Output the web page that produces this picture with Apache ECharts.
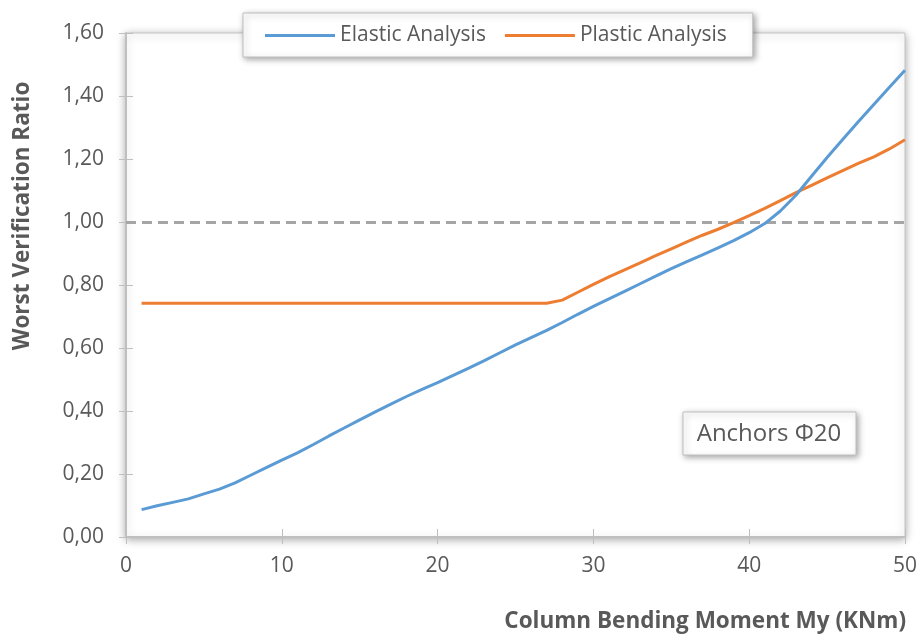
<!DOCTYPE html>
<html>
<head>
<meta charset="utf-8">
<script src="https://cdn.jsdelivr.net/npm/echarts@6/dist/echarts.min.js"></script>
<style>
html,body{margin:0;padding:0;background:#fff;}
#chart{width:920px;height:635px;}
</style>
</head>
<body>
<div id="chart"></div>
<script>
const moments = [1,2,3,4,5,6,7,8,9,10,11,12,13,14,15,16,17,18,19,20,21,22,23,24,25,26,27,28,29,30,31,32,33,34,35,36,37,38,39,40,41,42,43,44,45,46,47,48,49,50];
const elastic = [0.087,0.099,0.110,0.121,0.137,0.152,0.172,0.196,0.220,0.244,0.267,0.293,0.320,0.346,0.372,0.397,0.422,0.446,0.469,0.490,0.513,0.536,0.560,0.585,0.610,0.633,0.656,0.681,0.707,0.732,0.756,0.780,0.804,0.828,0.852,0.874,0.896,0.918,0.941,0.966,0.995,1.035,1.085,1.145,1.205,1.262,1.318,1.373,1.428,1.482];
const plastic = [0.742,0.742,0.742,0.742,0.742,0.742,0.742,0.742,0.742,0.742,0.742,0.742,0.742,0.742,0.742,0.742,0.742,0.742,0.742,0.742,0.742,0.742,0.742,0.742,0.742,0.742,0.742,0.752,0.777,0.802,0.826,0.848,0.870,0.893,0.915,0.937,0.958,0.977,0.998,1.020,1.043,1.068,1.093,1.116,1.140,1.163,1.186,1.207,1.232,1.261];
const seriesNames = ['Elastic Analysis','Plastic Analysis'];
const limitRatio = 1.0;
const xTitle = 'Column Bending Moment My (KNm)';
const yTitle = 'Worst Verification Ratio';
const annotation = 'Anchors Φ20';

const font = '"Open Sans", Lato, sans-serif';
const txt = '#595959';
const tickColor = '#bfbfbf';
const chart = echarts.init(document.getElementById('chart'));
chart.setOption({
  backgroundColor: '#fff',
  animation: false,
  textStyle: {fontFamily: font},
  grid: {
    left: 126, right: 14, top: 33, bottom: 98,
    show: true, backgroundColor: '#fff',
    borderColor: '#c4c4c4', borderWidth: 1,
    shadowBlur: 8, shadowColor: 'rgba(0,0,0,0.35)', shadowOffsetX: 0, shadowOffsetY: 2
  },
  legend: {
    data: seriesNames,
    left: 243, top: 13,
    padding: [12, 26, 11, 22],
    itemGap: 19,
    itemWidth: 70, itemHeight: 3,
    icon: 'rect',
    backgroundColor: '#fff',
    borderColor: '#bfbfbf', borderWidth: 1,
    shadowBlur: 6, shadowColor: 'rgba(0,0,0,0.35)', shadowOffsetX: 2, shadowOffsetY: 2,
    textStyle: {fontSize: 21, color: txt, fontFamily: font}
  },
  xAxis: [
    {
      type: 'value', min: 0, max: 50, interval: 10,
      axisLine: {show: true, lineStyle: {color: tickColor, width: 2}},
      axisTick: {show: true, inside: false, length: 7, lineStyle: {color: tickColor}},
      splitLine: {show: false},
      axisLabel: {fontSize: 21, color: txt, margin: 19, fontFamily: font}
    },
    {
      type: 'value', min: 0, max: 50, interval: 10, position: 'bottom',
      axisLine: {show: false},
      axisTick: {show: true, inside: true, length: 8, lineStyle: {color: tickColor}},
      splitLine: {show: false}, axisLabel: {show: false}
    }
  ],
  yAxis: [
    {
      type: 'value', min: 0, max: 1.6, interval: 0.2,
      axisLine: {show: true, lineStyle: {color: tickColor, width: 2}},
      axisTick: {show: true, length: 7, lineStyle: {color: tickColor}},
      splitLine: {show: false},
      axisLabel: {fontSize: 21, color: txt, margin: 22, fontFamily: font,
        formatter: v => v.toFixed(2).replace('.', ',')}
    },
    {
      type: 'value', min: 0, max: 1.6, interval: 0.2, position: 'left',
      axisLine: {show: false},
      axisTick: {show: true, inside: true, length: 7, lineStyle: {color: tickColor}},
      splitLine: {show: false}, axisLabel: {show: false}
    }
  ],
  series: [
    {
      name: seriesNames[0], type: 'line', showSymbol: false, symbol: 'none',
      data: moments.map((m, i) => [m, elastic[i]]),
      lineStyle: {color: '#5B9BD5', width: 3}, itemStyle: {color: '#5B9BD5'},
      z: 3,
      markLine: {
        silent: true, symbol: 'none', label: {show: false},
        lineStyle: {color: '#A5A5A5', width: 3, type: [10, 6]},
        data: [{yAxis: limitRatio}], z: 1
      }
    },
    {
      name: seriesNames[1], type: 'line', showSymbol: false, symbol: 'none',
      data: moments.map((m, i) => [m, plastic[i]]),
      lineStyle: {color: '#ED7D31', width: 3}, itemStyle: {color: '#ED7D31'},
      z: 2
    }
  ],
  graphic: [
    {
      type: 'text', x: 23, y: 216, rotation: Math.PI / 2,
      style: {text: yTitle, fill: txt, font: 'bold 22.5px ' + font, align: 'center', verticalAlign: 'middle'}
    },
    {
      type: 'text', x: 906, y: 622,
      style: {text: xTitle, fill: txt, font: 'bold 22.5px ' + font, align: 'right', verticalAlign: 'middle'}
    },
    {
      type: 'rect', shape: {x: 683, y: 412, width: 173, height: 43},
      style: {fill: '#fff', stroke: '#bfbfbf', lineWidth: 1, shadowBlur: 6, shadowColor: 'rgba(0,0,0,0.35)', shadowOffsetX: 2, shadowOffsetY: 2},
      z: 10
    },
    {
      type: 'text', x: 769, y: 434,
      style: {text: annotation, fill: txt, font: '24px ' + font, align: 'center', verticalAlign: 'middle'},
      z: 11
    }
  ]
});
</script>
</body>
</html>
